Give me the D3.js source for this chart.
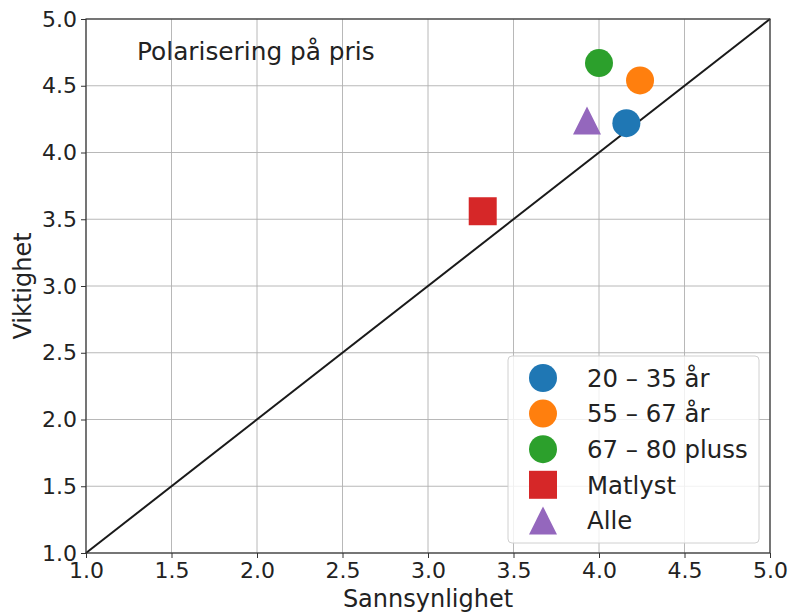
<!DOCTYPE html>
<html>
<head>
<meta charset="utf-8">
<script src="https://cdn.jsdelivr.net/npm/d3@7"></script>
<style>
  html, body { margin: 0; padding: 0; background: #fff; }
  svg { display: block; font-family: "DejaVu Sans", sans-serif; }
</style>
</head>
<body>
<svg id="chart" width="791" height="614"></svg>
<script>
// Group labels, marker shapes, colours and (Sannsynlighet, Viktighet) values
const groups  = ["20 – 35 år", "55 – 67 år", "67 – 80 pluss", "Matlyst", "Alle"];
const shapes  = ["circle", "circle", "circle", "square", "triangle"];
const colors  = ["#1f77b4", "#ff7f0e", "#2ca02c", "#d62728", "#9467bd"];
const sannsyn = [4.16, 4.24, 4.00, 3.32, 3.93];
const viktig  = [4.22, 4.54, 4.67, 3.56, 4.24];
const xTicks  = [1.0, 1.5, 2.0, 2.5, 3.0, 3.5, 4.0, 4.5, 5.0];
const yTicks  = [1.0, 1.5, 2.0, 2.5, 3.0, 3.5, 4.0, 4.5, 5.0];
const titleText = "Polarisering på pris";

const svg = d3.select("#chart");
const L = 86, R = 770, T = 19, B = 553;
const x = d3.scaleLinear().domain([1, 5]).range([L, R]);
const y = d3.scaleLinear().domain([1, 5]).range([B, T]);

// marker path centred on its bounding box (size = full width)
function markerPath(shape, s) {
  const h = s / 2;
  if (shape === "circle") {
    return `M${h},0A${h},${h} 0 1,1 ${-h},0A${h},${h} 0 1,1 ${h},0Z`;
  }
  if (shape === "square") {
    return `M${-h},${-h}H${h}V${h}H${-h}Z`;
  }
  return `M0,${-h}L${h},${h}L${-h},${h}Z`;
}

// grid
const grid = svg.append("g");
grid.selectAll("line.gx").data(xTicks).join("line")
  .attr("x1", d => x(d)).attr("x2", d => x(d))
  .attr("y1", T).attr("y2", B)
  .attr("stroke", "#b0b0b0").attr("stroke-width", 0.9);
grid.selectAll("line.gy").data(yTicks).join("line")
  .attr("y1", d => y(d)).attr("y2", d => y(d))
  .attr("x1", L).attr("x2", R)
  .attr("stroke", "#b0b0b0").attr("stroke-width", 0.9);

// diagonal reference line y = x
svg.append("line")
  .attr("x1", x(1)).attr("y1", y(1)).attr("x2", x(5)).attr("y2", y(5))
  .attr("stroke", "#1a1a1a").attr("stroke-width", 2);

// axes
const xAxis = d3.axisBottom(x).tickValues(xTicks).tickFormat(d3.format(".1f")).tickSize(5).tickPadding(4);
const yAxis = d3.axisLeft(y).tickValues(yTicks).tickFormat(d3.format(".1f")).tickSize(5).tickPadding(4);
const gx = svg.append("g").attr("transform", `translate(0,${B})`).call(xAxis);
const gy = svg.append("g").attr("transform", `translate(${L},0)`).call(yAxis);
[gx, gy].forEach(g => {
  g.selectAll("text").attr("font-size", 22).attr("fill", "#222")
    .attr("font-family", "DejaVu Sans, sans-serif");
  g.selectAll("line").attr("stroke", "#333");
  g.select(".domain").remove();
});

// frame
svg.append("rect").attr("x", L).attr("y", T).attr("width", R - L).attr("height", B - T)
  .attr("fill", "none").attr("stroke", "#333").attr("stroke-width", 1.2);

// points
const idx = d3.range(groups.length);
svg.append("g").selectAll("path").data(idx).join("path")
  .attr("transform", i => `translate(${x(sannsyn[i])},${y(viktig[i])})`)
  .attr("d", i => markerPath(shapes[i], 28))
  .attr("fill", i => colors[i]);

// title inside axes
svg.append("text").attr("x", 137).attr("y", 60)
  .attr("font-size", 24.8).attr("fill", "#222").text(titleText);

// axis labels
svg.append("text").attr("x", (L + R) / 2 + 0).attr("y", 607)
  .attr("text-anchor", "middle").attr("font-size", 24).attr("fill", "#222")
  .text("Sannsynlighet");
svg.append("text")
  .attr("transform", `translate(31,${(T + B) / 2}) rotate(-90)`)
  .attr("text-anchor", "middle").attr("font-size", 24).attr("fill", "#222")
  .text("Viktighet");

// legend
const lg = svg.append("g");
lg.append("rect").attr("x", 508).attr("y", 356).attr("width", 251).attr("height", 187)
  .attr("rx", 4).attr("fill", "#fff").attr("fill-opacity", 0.8)
  .attr("stroke", "#d0d0d0").attr("stroke-width", 1);
const rows = lg.selectAll("g.row").data(idx).join("g")
  .attr("transform", i => `translate(543,${378 + i * 35.6})`);
rows.append("path").attr("d", i => markerPath(shapes[i], 28)).attr("fill", i => colors[i]);
rows.append("text").attr("x", 44).attr("y", 0).attr("dy", "0.36em")
  .attr("font-size", 24.4).attr("fill", "#222").text(i => groups[i]);
</script>
</body>
</html>
